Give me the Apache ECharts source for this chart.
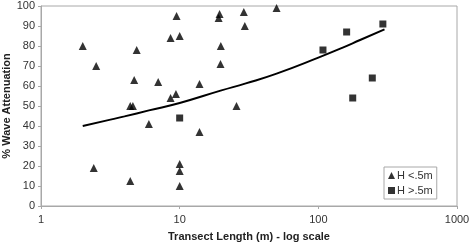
<!DOCTYPE html>
<html>
<head>
<meta charset="utf-8">
<script src="https://cdn.jsdelivr.net/npm/echarts@6/dist/echarts.min.js"></script>
<style>
  html, body { margin: 0; padding: 0; background: #fff; }
  #chart { width: 470px; height: 245px; }
</style>
</head>
<body>
<div id="chart"></div>
<script>
// H < .5m (triangles): [transect length, % attenuation]
var lowWave = [
  [2, 80], [2.5, 70], [2.4, 19], [4.9, 78], [4.7, 63], [4.4, 50], [4.6, 50],
  [4.4, 12.5], [6, 41], [7, 62], [8.6, 84], [10, 85], [9.5, 95], [8.6, 54],
  [9.4, 56], [10, 21], [10, 17.5], [10, 10], [13.9, 61], [13.9, 37],
  [19.4, 96], [19.1, 94], [19.8, 80], [19.7, 71], [25.7, 50], [29, 97],
  [29.5, 90], [50, 99]
]
// H > .5m (squares)
var highWave = [
  [10, 44], [108, 78], [160, 87], [292, 91], [245, 64], [177, 54]
]
// trend curve
var trendX = [2, 3, 4, 6, 10, 20, 30, 50, 100, 150, 200, 300]
var trendY = [40, 42.8, 44.8, 47.8, 51.5, 57.8, 61.3, 66.2, 74.2, 79.2, 83, 88.3]
var xTicks = [1, 10, 100, 1000]

var font = 'Liberation Sans, Arial, sans-serif'
var chart = echarts.init(document.getElementById('chart'))
var trendData = []
for (var i = 0; i < trendX.length; i++) {
  trendData.push([trendX[i], trendY[i]])
}

chart.setOption({
  animation: false,
  textStyle: { fontFamily: font },
  grid: {
    left: 41,
    right: 13,
    top: 6,
    bottom: 39,
    outerBoundsMode: 'none',
    containLabel: false,
    show: true,
    borderColor: '#a8a8a8',
    borderWidth: 1
  },
  legend: {
    data: ['H <.5m', 'H >.5m'],
    orient: 'vertical',
    left: 384,
    top: 167,
    itemWidth: 7,
    itemHeight: 7,
    itemGap: 4,
    padding: [3, 4, 3, 4],
    borderColor: '#a8a8a8',
    borderWidth: 1,
    textStyle: { fontSize: 11, color: '#333', fontFamily: font, padding: [0, 0, 0, -3] }
  },
  xAxis: {
    type: 'log',
    logBase: 10,
    min: 1,
    max: 1000,
    name: 'Transect Length (m) - log scale',
    nameLocation: 'middle',
    nameGap: 25,
    nameMoveOverlap: false,
    nameTextStyle: { fontSize: 11, fontWeight: 'bold', color: '#222' },
    axisLine: { lineStyle: { color: '#a8a8a8' } },
    axisTick: { show: true, length: 3, lineStyle: { color: '#a8a8a8' } },
    minorTick: { show: false },
    splitLine: { show: false },
    axisLabel: {
      fontSize: 11,
      color: '#333',
      margin: 8,
      formatter: function (v) {
        var t = xTicks.find(function (k) { return Math.abs(k - v) / k < 1e-6 })
        return t ? String(t) : ''
      }
    }
  },
  yAxis: {
    type: 'value',
    min: 0,
    max: 100,
    interval: 10,
    name: '% Wave Attenuation',
    nameLocation: 'middle',
    nameGap: 29,
    nameMoveOverlap: false,
    nameTextStyle: { fontSize: 11, fontWeight: 'bold', color: '#222' },
    axisLine: { show: true, lineStyle: { color: '#a8a8a8' } },
    axisTick: { show: true, length: 3, lineStyle: { color: '#a8a8a8' } },
    splitLine: { show: false },
    axisLabel: { fontSize: 11, color: '#333', margin: 6 }
  },
  series: [
    {
      name: 'H <.5m',
      type: 'scatter',
      symbol: 'triangle',
      symbolSize: 8,
      itemStyle: { color: '#000' },
      data: lowWave
    },
    {
      name: 'H >.5m',
      type: 'scatter',
      symbol: 'rect',
      symbolSize: 7,
      itemStyle: { color: '#000' },
      data: highWave
    },
    {
      name: 'trend',
      type: 'line',
      smooth: true,
      symbol: 'none',
      lineStyle: { color: '#000', width: 2 },
      data: trendData,
      z: 1
    }
  ]
})
</script>
</body>
</html>
